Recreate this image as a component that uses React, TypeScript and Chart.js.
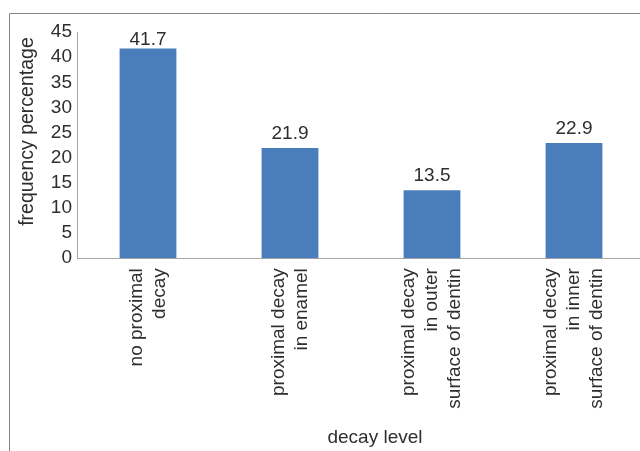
import React, { useEffect, useRef } from "react";
import { Chart, registerables } from "chart.js";

Chart.register(...registerables);

const categories: string[][] = [
  ["no proximal", "decay"],
  ["proximal decay", "in enamel"],
  ["proximal decay", "in outer", "surface of dentin"],
  ["proximal decay", "in inner", "surface of dentin"],
];
const values: number[] = [41.7, 21.9, 13.5, 22.9];
const yMin = 0;
const yMax = 45;
const yStep = 5;
const yTitle = "frequency percentage";
const xTitle = "decay level";

const FONT = "'Liberation Sans', Arial, sans-serif";
const TEXT = "#2e2e2e";
const FONT_SIZE = 19;
const LINE_H = 1.2;

// Chart.js stacks rotated multi-line labels starting at the tick; to centre
// blocks of different line counts, lines are spaced with half-height blank lines.
const maxLines = Math.max(...categories.map((c) => c.length));
const tickLabels = categories.map((lines) => {
  const lead: string[] = Array(maxLines - lines.length).fill("");
  const spaced = lines.flatMap((l, i) => (i ? ["", l] : [l]));
  return [...lead, ...spaced];
});
const halfLine = (FONT_SIZE * LINE_H) / 2;

const framePlugin = {
  id: "frame",
  beforeDraw(chart: any) {
    const ctx = chart.ctx;
    ctx.save();
    ctx.strokeStyle = "#868686";
    ctx.lineWidth = 1;
    ctx.beginPath();
    ctx.moveTo(9.5, chart.height);
    ctx.lineTo(9.5, 13.5);
    ctx.lineTo(chart.width, 13.5);
    ctx.stroke();
    ctx.restore();
  },
};

const valueLabels = {
  id: "valueLabels",
  afterDatasetsDraw(chart: any) {
    const ctx = chart.ctx;
    const meta = chart.getDatasetMeta(0);
    ctx.save();
    ctx.font = `${FONT_SIZE}px ${FONT}`;
    ctx.fillStyle = TEXT;
    ctx.textAlign = "center";
    ctx.textBaseline = "alphabetic";
    meta.data.forEach((bar: any, i: number) => {
      const y = Math.max(bar.y - 9, chart.chartArea.top + 13);
      ctx.fillText(String(values[i]), bar.x, y);
    });
    ctx.restore();
  },
};

export default function App() {
  const ref = useRef<HTMLCanvasElement>(null);
  useEffect(() => {
    if (!ref.current) return;
    const chart = new Chart(ref.current, {
      type: "bar",
      data: {
        labels: tickLabels,
        datasets: [
          {
            data: values,
            backgroundColor: "#4A7EBB",
            categoryPercentage: 1,
            barPercentage: 0.4,
          },
        ],
      },
      options: {
        animation: false,
        responsive: false,
        layout: { padding: { top: 32, left: 0, right: 0, bottom: 0 } },
        plugins: {
          legend: { display: false },
          tooltip: { enabled: false },
          title: {
            display: true,
            position: "bottom",
            text: xTitle,
            color: TEXT,
            font: { size: FONT_SIZE, family: FONT, weight: "normal", lineHeight: LINE_H },
            padding: { top: 0, bottom: 2 },
          },
        },
        scales: {
          x: {
            grid: { display: false, drawTicks: false },
            border: { display: true, color: "#a6a6a6", width: 1 },
            ticks: {
              minRotation: 90,
              maxRotation: 90,
              autoSkip: false,
              padding: 10,
              labelOffset: -halfLine * (maxLines - 1),
              color: TEXT,
              font: { size: FONT_SIZE, family: FONT, lineHeight: LINE_H / 2 },
            },
            afterFit: (s: any) => {
              s.height = 168;
            },
          },
          y: {
            min: yMin,
            max: yMax,
            grid: { display: false, drawTicks: false },
            border: { display: true, color: "#a6a6a6", width: 1 },
            ticks: {
              stepSize: yStep,
              autoSkip: false,
              padding: 5,
              color: TEXT,
              font: { size: FONT_SIZE, family: FONT },
            },
            title: {
              display: true,
              text: "     " + yTitle,
              color: TEXT,
              font: { size: FONT_SIZE + 0.5, family: FONT, lineHeight: LINE_H },
              padding: { top: 16, bottom: 0 },
            },
            afterFit: (s: any) => {
              s.width = 77;
            },
          },
          y2: {
            type: "linear",
            position: "right",
            display: true,
            grid: { display: false, drawTicks: false },
            border: { display: false },
            ticks: { display: false },
            afterFit: (s: any) => {
              s.width = 105;
            },
          },
        },
      },
      plugins: [framePlugin, valueLabels],
    } as any);
    return () => chart.destroy();
  }, []);
  return (
    <div
      style={{
        position: "absolute",
        left: 0,
        top: 0,
        width: 640,
        height: 451,
        overflow: "hidden",
        background: "#fff",
      }}
    >
      <canvas ref={ref} width={750} height={451} style={{ display: "block" }} />
    </div>
  );
}
